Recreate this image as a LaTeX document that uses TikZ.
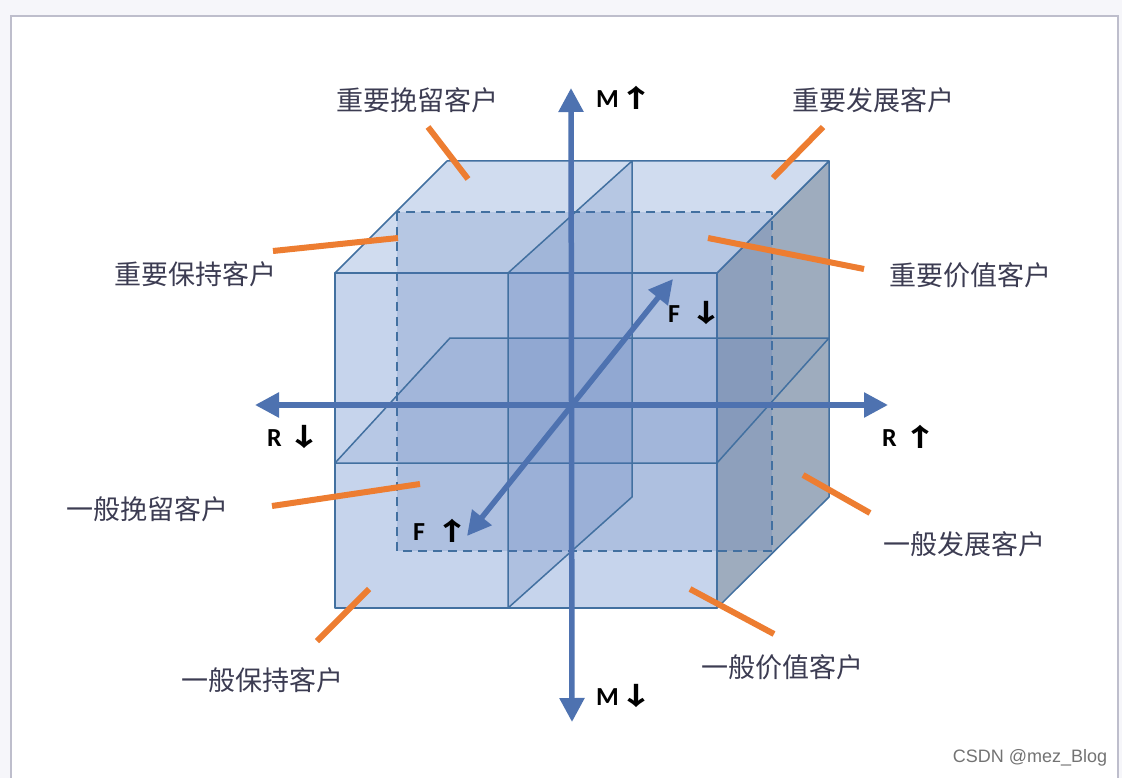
\documentclass[tikz,border=0pt]{standalone}
\usepackage{fontspec}
\usepackage{xcolor}
\usetikzlibrary{arrows.meta}

\newfontfamily\cjk{Noto Sans CJK SC}
\newfontfamily\lettersf{Carlito}
\newfontfamily\marksf{Liberation Sans}

\definecolor{pagebg}{RGB}{246,246,250}
\definecolor{framegray}{RGB}{190,190,204}
\definecolor{edgeblue}{RGB}{66,112,160}
\definecolor{axisblue}{RGB}{78,114,176}
\definecolor{planeblue}{RGB}{80,115,180}
\definecolor{frontfill}{RGB}{198,212,236}
\definecolor{topfill}{RGB}{208,220,239}
\definecolor{sidefill}{RGB}{158,172,190}
\definecolor{calloutorange}{RGB}{237,125,49}
\definecolor{labelink}{RGB}{60,60,82}

\newcommand{\uparr}{\scalebox{1.5}[1.05]{\cjk\bfseries\fontsize{24}{28}\selectfont ↑}}
\newcommand{\dnarr}{\scalebox{1.5}[1.05]{\cjk\bfseries\fontsize{24}{28}\selectfont ↓}}

\begin{document}
\begin{tikzpicture}[x=1pt, y=-1pt,
  edge/.style={draw=edgeblue, line width=1.5pt, line join=round},
  midplane/.style={edge, fill=planeblue, fill opacity=0.2},
  axis/.style={draw=axisblue, line width=5.5pt,
    {Triangle[length=24pt,width=24pt]}-{Triangle[length=24pt,width=24pt]}},
  callout/.style={draw=calloutorange, line width=6pt},
  seg/.style={font=\cjk\fontsize{27}{30}\selectfont, text=labelink, inner sep=0pt},
  dirlabel/.style={anchor=base west, inner sep=0pt, text=black,
    font=\fontsize{26}{30}\selectfont}]

  % Page and frame
  \useasboundingbox (0,0) rectangle (1122,778);
  \clip (0,0) rectangle (1122,778);
  \fill[pagebg] (0,0) rectangle (1122,778);
  \draw[framegray, line width=2pt, fill=white] (11,16) rectangle (1118,800);

  % Cube faces
  \draw[edge, fill=sidefill] (717,273) -- (829,161) -- (829,497) -- (717,608) -- cycle;
  \draw[edge, fill=topfill] (335,273) -- (447,161) -- (829,161) -- (717,273) -- cycle;
  \draw[edge, fill=frontfill] (335,273) rectangle (717,608);

  % Inner planes (F, M, R splits)
  \draw[midplane, dash pattern=on 9pt off 6pt] (397,212) rectangle (772,551);
  \draw[midplane, fill opacity=0.12] (335,463) -- (450,338) -- (829,338) -- (717,463) -- cycle;
  \draw[midplane] (508,273) -- (632,161) -- (632,497) -- (508,608) -- cycle;

  % Axes
  \coordinate (m-top) at (571,88);
  \coordinate (m-bot) at (572,722);
  \coordinate (r-left) at (255,405);
  \coordinate (r-right) at (888,405);
  \coordinate (f-front) at (467,536);
  \coordinate (f-back) at (673,279);
  \draw[axis] (m-bot) -- (m-top);
  \draw[axis] (r-left) -- (r-right);
  \draw[axis] (f-front) -- (f-back);

  % Axis labels
  \node[dirlabel] (m-hi) at (596,108) {{\lettersf\bfseries M}\uparr};
  \node[dirlabel] (m-lo) at (596,705) {{\lettersf\bfseries M}\dnarr};
  \node[dirlabel] (r-lo) at (267,446) {{\lettersf\bfseries R}\hspace{5pt}\dnarr};
  \node[dirlabel] (r-hi) at (882,446) {{\lettersf\bfseries R}\hspace{6pt}\uparr};
  \node[dirlabel] (f-lo) at (668,322) {{\lettersf\bfseries F}\hspace{8pt}\dnarr};
  \node[dirlabel] (f-hi) at (413,540) {{\lettersf\bfseries F}\hspace{9pt}\uparr};

  % Segment labels
  \node[seg] (imp-retain) at (417,100) {重要挽留客户};
  \node[seg] (imp-grow) at (873,100) {重要发展客户};
  \node[seg] (imp-keep) at (195,274) {重要保持客户};
  \node[seg] (imp-value) at (970,275) {重要价值客户};
  \node[seg] (gen-retain) at (147,509) {一般挽留客户};
  \node[seg] (gen-grow) at (964,544) {一般发展客户};
  \node[seg] (gen-keep) at (262,680) {一般保持客户};
  \node[seg] (gen-value) at (782,667) {一般价值客户};

  % Callout ends
  \coordinate (imp-retain-a) at (428,127);  \coordinate (imp-retain-b) at (468,179);
  \coordinate (imp-grow-a) at (823,127);    \coordinate (imp-grow-b) at (773,178);
  \coordinate (imp-keep-a) at (273,251);    \coordinate (imp-keep-b) at (398,238);
  \coordinate (imp-value-a) at (864,269);   \coordinate (imp-value-b) at (708,238);
  \coordinate (gen-retain-a) at (272,506);  \coordinate (gen-retain-b) at (420,484);
  \coordinate (gen-grow-a) at (870,513);    \coordinate (gen-grow-b) at (803,475);
  \coordinate (gen-keep-a) at (317,641);    \coordinate (gen-keep-b) at (369,589);
  \coordinate (gen-value-a) at (774,634);   \coordinate (gen-value-b) at (690,589);

  % Callouts
  \draw[callout] (imp-retain-a) -- (imp-retain-b);
  \draw[callout] (imp-grow-a) -- (imp-grow-b);
  \draw[callout] (imp-keep-a) -- (imp-keep-b);
  \draw[callout] (imp-value-a) -- (imp-value-b);
  \draw[callout] (gen-retain-a) -- (gen-retain-b);
  \draw[callout] (gen-grow-a) -- (gen-grow-b);
  \draw[callout] (gen-keep-a) -- (gen-keep-b);
  \draw[callout] (gen-value-a) -- (gen-value-b);

  % Watermark
  \node[font=\marksf\fontsize{18}{20}\selectfont, text=black!55] (mark) at (1030,758) {CSDN @mez\_Blog};
\end{tikzpicture}
\end{document}
